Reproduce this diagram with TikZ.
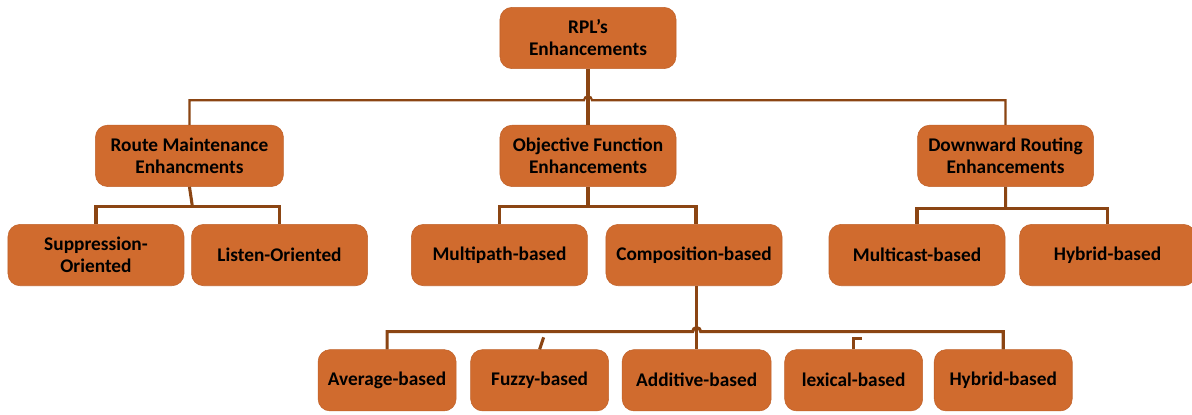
\documentclass[tikz,border=0pt]{standalone}
\usepackage{fontspec}
\setmainfont{Carlito}
\usepackage{tikz}
\usetikzlibrary{arrows.meta, positioning, calc}
\usepackage{xcolor}
\definecolor{boxfill}{HTML}{D06B2E}
\definecolor{boxedge}{HTML}{C0622A}
\definecolor{linkbrown}{HTML}{8B4513}

\begin{document}
\begin{tikzpicture}[
  topblock/.style = {draw=boxedge, fill=boxfill, thin, rounded corners=9pt, minimum height=46pt, minimum width=132pt, align=center, font=\fontsize{14.5}{16.5}\selectfont\bfseries},
  leafblock/.style = {topblock, minimum width=103.5pt},
  link/.style = {draw=linkbrown, line width=2.3pt},
  thinlink/.style = {draw=linkbrown, line width=1.6pt}
]
  \useasboundingbox (-441pt,28.5pt) rectangle (453pt,-282pt);

  % ======================================================
  % Root
  % ======================================================
  \node[topblock] (root) at (0,0) {RPL's\\Enhancements};

  % Second level
  \node[topblock, below=42pt of root] (objfn) {Objective Function\\Enhancements};
  \node[topblock, minimum width=141pt, left=162pt of objfn] (route) {Route Maintenance\\Enhancments};
  \node[topblock, right=180.75pt of objfn] (down) {Downward Routing\\Enhancements};

  % Third level
  \node[topblock, below=28pt of route, xshift=-70.1pt] (supp) {Suppression-\\Oriented};
  \node[topblock, right=5.25pt of supp] (listen) {Listen-Oriented};
  \node[topblock, below=28pt of objfn, xshift=-66.4pt] (multi) {Multipath-based};
  \node[topblock, right=13.5pt of multi] (comp) {Composition-based};
  \node[topblock, below=28pt of down, xshift=-66.4pt] (mcast) {Multicast-based};
  \node[topblock, right=10.5pt of mcast] (hybrid) {Hybrid-based};

  % Bottom level (under Composition-based)
  \node[leafblock, minimum width=111.75pt, below=47.5pt of comp, xshift=2pt] (addit) {Additive-based};
  \node[leafblock, left=9.75pt of addit] (fuzzy) {Fuzzy-based};
  \node[leafblock, left=10.5pt of fuzzy] (avg) {Average-based};
  \node[leafblock, right=9.75pt of addit] (lexic) {lexical-based};
  \node[leafblock, right=8.25pt of lexic] (hybb) {Hybrid-based};

  % root -> second level
  \coordinate (topbus) at ($(root.south)!0.56!(objfn.north)$);
  \draw[link] (root.south) -- (objfn.north);
  \draw[thinlink] (route.north) |- ($(topbus)+(-3pt,0)$) arc[start angle=180, end angle=0, radius=3pt] -| (down.north);

  % route -> children
  \coordinate (rjoin) at ($(route.south)!0.54!(route.south |- listen.north)+(2.25pt,0)$);
  \draw[link] (route.south) -- (rjoin);
  \draw[link] (supp.north) |- (rjoin) -| (listen.north);

  % objective -> children
  \coordinate (ojoin) at ($(objfn.south)!0.54!(objfn.south |- multi.north)$);
  \draw[link] (objfn.south) -- (ojoin);
  \draw[link] (multi.north) |- (ojoin) -| ($(comp.north)+(1.5pt,0)$);

  % downward -> children
  \coordinate (djoin) at ($(down.south)!0.58!(down.south |- mcast.north)$);
  \draw[link] (down.south) -- (djoin);
  \draw[link] (mcast.north) |- (djoin) -| (hybrid.north);

  % composition -> bottom level
  \coordinate (cbus) at ($(addit.north |- comp.south)!0.72!(addit.north)$);
  \draw[link] (addit.north |- comp.south) -- (addit.north);
  \draw[link] (avg.north) |- ($(cbus)+(-3pt,0)$) arc[start angle=180, end angle=0, radius=3pt] -| (hybb.north);

  % loose ends
  \coordinate (fuzzyend) at ($(fuzzy.north)+(3pt,9pt)$);
  \draw[link] (fuzzy.north) -- (fuzzyend);
  \coordinate (lexicend) at ($(lexic.north)+(6.5pt,8.25pt)$);
  \draw[link] (lexic.north) |- (lexicend);

\end{tikzpicture}
\end{document}
